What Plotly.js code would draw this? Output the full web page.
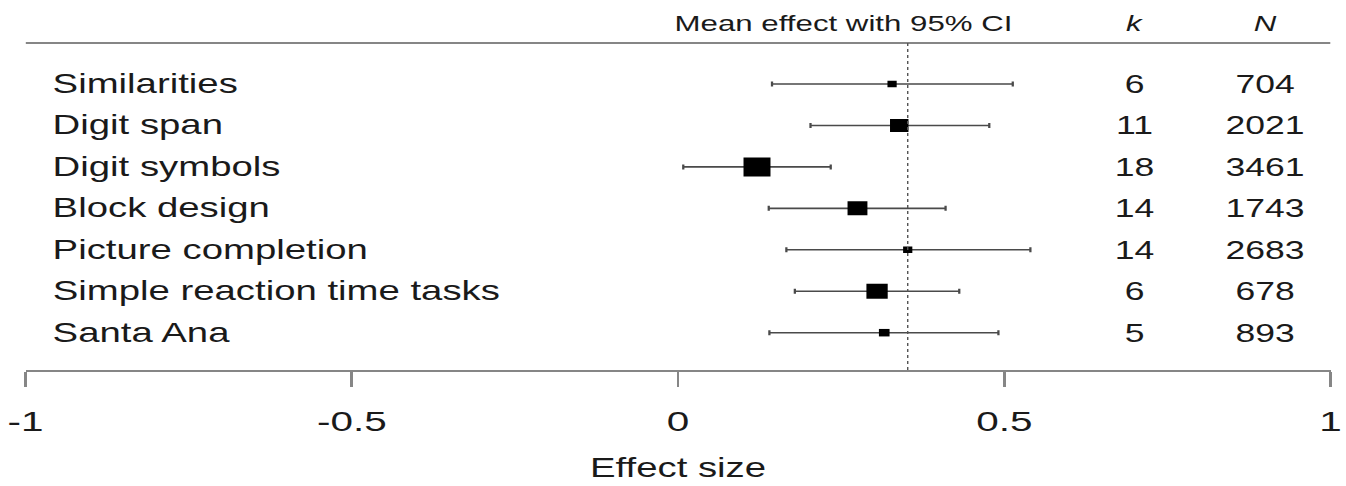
<!DOCTYPE html>
<html>
<head>
<meta charset="utf-8">
<script src="https://cdn.plot.ly/plotly-3.0.1.min.js"></script>
<style>
  html, body { margin: 0; padding: 0; background: #fff; overflow: hidden; }
  #plot { width: 948px; height: 486px; transform-origin: 0 0; }
</style>
</head>
<body>
<div id="plot"></div>
<script>
// ---- data ----
const labels = ['Similarities', 'Digit span', 'Digit symbols', 'Block design',
                'Picture completion', 'Simple reaction time tasks', 'Santa Ana'];
const estimate = [0.328, 0.339, 0.121, 0.275, 0.352, 0.305, 0.316];
const ciLower  = [0.144, 0.203, 0.008, 0.139, 0.166, 0.179, 0.140];
const ciUpper  = [0.513, 0.477, 0.234, 0.410, 0.540, 0.431, 0.491];
const kStudies = [6, 11, 18, 14, 14, 6, 5];
const nTotal   = [704, 2021, 3461, 1743, 2683, 678, 893];
const refLine  = 0.352;
const xTicks   = [-1, -0.5, 0, 0.5, 1];
const xTickText = ['-1', '-0.5', '0', '0.5', '1'];

// ---- style ----
const STRETCH = 1.42;                       // reference image is stretched horizontally
const BOX_PX = [6.5, 13, 19, 14, 6.5, 15, 7.5];
const FONT = 'Liberation Sans, Arial, sans-serif';
const TXT = '#1a1a1a';
const GREY = '#868686';
const LABEL_X = -0.962, K_X = 0.700, N_X = 0.899, HEAD_X = 0.2546, HEAD_Y = 1.061;

const rowY = labels.map((_, i) => labels.length - i);

const ciTrace = {
  type: 'scatter', mode: 'markers',
  x: estimate, y: rowY,
  marker: { size: 1, color: 'rgba(0,0,0,0)' },
  error_x: {
    type: 'data', symmetric: false,
    array: ciUpper.map((u, i) => u - estimate[i]),
    arrayminus: estimate.map((e, i) => e - ciLower[i]),
    color: '#4a4a4a', thickness: 1.6, width: 2.5
  },
  hoverinfo: 'skip', showlegend: false
};
const boxTrace = {
  type: 'scatter', mode: 'markers',
  x: estimate, y: rowY,
  marker: { symbol: 'square', color: '#000', size: BOX_PX, opacity: 1, line: { width: 0 } },
  hoverinfo: 'skip', showlegend: false
};

const annotations = [];
labels.forEach((lab, i) => {
  annotations.push({ x: LABEL_X, y: rowY[i], xref: 'x', yref: 'y', text: lab,
    xanchor: 'left', yanchor: 'middle', showarrow: false, font: { family: FONT, size: 27, color: TXT } });
  annotations.push({ x: K_X, y: rowY[i], xref: 'x', yref: 'y', text: String(kStudies[i]),
    xanchor: 'center', yanchor: 'middle', showarrow: false, font: { family: FONT, size: 25, color: TXT } });
  annotations.push({ x: N_X, y: rowY[i], xref: 'x', yref: 'y', text: String(nTotal[i]),
    xanchor: 'center', yanchor: 'middle', showarrow: false, font: { family: FONT, size: 25, color: TXT } });
});
annotations.push({ x: HEAD_X, y: HEAD_Y, xref: 'x', yref: 'paper', text: 'Mean effect with 95% CI',
  xanchor: 'center', yanchor: 'middle', showarrow: false, font: { family: FONT, size: 22, color: TXT } });
annotations.push({ x: K_X, y: HEAD_Y, xref: 'x', yref: 'paper', text: '<i>k</i>',
  xanchor: 'center', yanchor: 'middle', showarrow: false, font: { family: FONT, size: 22, color: TXT } });
annotations.push({ x: N_X, y: HEAD_Y, xref: 'x', yref: 'paper', text: '<i>N</i>',
  xanchor: 'center', yanchor: 'middle', showarrow: false, font: { family: FONT, size: 22, color: TXT } });

const layout = {
  width: 948, height: 486,
  margin: { l: 18, r: 11, t: 43, b: 116, pad: 0 },
  paper_bgcolor: '#fff', plot_bgcolor: '#fff',
  font: { family: FONT, color: TXT },
  xaxis: {
    range: [-1, 1], tickvals: xTicks, ticktext: xTickText, tickangle: 0,
    showgrid: false, zeroline: false, showline: true, linecolor: GREY, linewidth: 2,
    ticks: 'outside', ticklen: 15, tickwidth: 2, tickcolor: GREY,
    tickfont: { family: FONT, size: 28.5, color: TXT }, ticklabelstandoff: 10,
    title: { text: 'Effect size', font: { family: FONT, size: 27, color: TXT }, standoff: 22 },
    automargin: false, fixedrange: true
  },
  yaxis: {
    range: [0.1, 7.989], visible: false, showgrid: false, zeroline: false, fixedrange: true
  },
  shapes: [
    { type: 'line', xref: 'x', yref: 'paper', x0: -1, x1: 1, y0: 1, y1: 1,
      line: { color: GREY, width: 2 } },
    { type: 'line', xref: 'x', yref: 'paper', x0: refLine, x1: refLine, y0: 0, y1: 1,
      line: { color: '#555', width: 1, dash: 'dot' } }
  ],
  annotations: annotations
};

const div = document.getElementById('plot');
Plotly.newPlot(div, [ciTrace, boxTrace], layout, { staticPlot: true, displayModeBar: false })
  .then(() => { div.style.transform = 'scaleX(' + STRETCH + ')'; });
</script>
</body>
</html>
